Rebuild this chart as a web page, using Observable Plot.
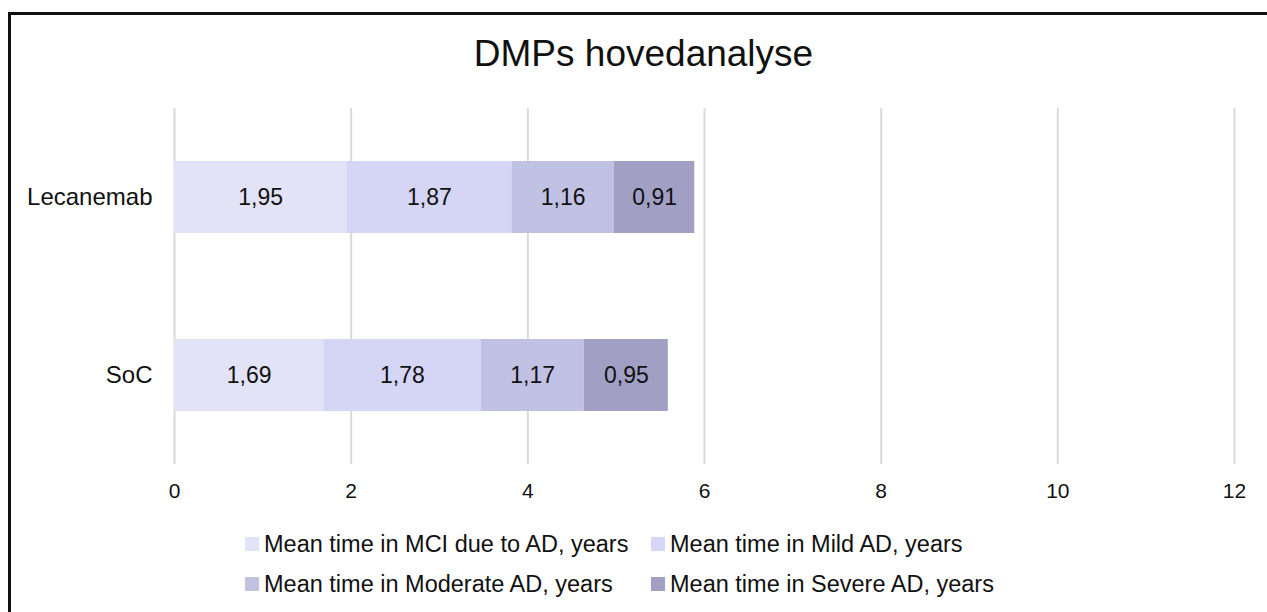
<!DOCTYPE html>
<html>
<head>
<meta charset="utf-8">
<script src="https://cdn.jsdelivr.net/npm/d3@7"></script>
<script src="https://cdn.jsdelivr.net/npm/@observablehq/plot@0.6"></script>
<style>
  html, body { margin: 0; padding: 0; background: #fff; }
  body { width: 1267px; height: 612px; position: relative; overflow: hidden;
         font-family: "Liberation Sans", Arial, sans-serif; color: #111; }
  #frame { position: absolute; left: 8px; top: 12px; width: 1270px; height: 620px;
           border-left: 3px solid #111; border-top: 3px solid #111; box-sizing: border-box; }
  #title { position: absolute; left: 0; width: 1287px; top: 33px; text-align: center;
           font-size: 37px; line-height: 42px; }
  #chart { position: absolute; left: 0; top: 90px; }
  #legend { position: absolute; left: 245px; top: 530px; display: grid;
            grid-template-columns: 406px auto; row-gap: 12px; font-size: 23.5px; line-height: 28px; }
  .item { display: flex; align-items: center; white-space: nowrap; }
  .swatch { width: 14px; height: 14px; margin-right: 5px; flex: none; }
</style>
</head>
<body>
<div id="frame"></div>
<div id="title">DMPs hovedanalyse</div>
<div id="chart"></div>
<div id="legend"></div>
<script>
// Treatment arms, disease stages and mean years spent in each stage
const groups = ["Lecanemab", "SoC"];
const stages = [
  "Mean time in MCI due to AD, years",
  "Mean time in Mild AD, years",
  "Mean time in Moderate AD, years",
  "Mean time in Severe AD, years"
];
const lecanemabYears = [1.95, 1.87, 1.16, 0.91];
const socYears = [1.69, 1.78, 1.17, 0.95];
const stageColors = ["#e3e3f7", "#d5d5f5", "#c1c1e4", "#a1a0c4"];
const xTicks = [0, 2, 4, 6, 8, 10, 12];

const rows = [];
[lecanemabYears, socYears].forEach((vals, gi) => {
  vals.forEach((v, si) => rows.push({group: groups[gi], stage: stages[si], value: v}));
});

const fmt = v => v.toFixed(2).replace(".", ",");

const chart = Plot.plot({
  width: 1267,
  height: 420,
  marginLeft: 174,
  marginRight: 33,
  marginTop: 18,
  marginBottom: 46,
  style: {fontFamily: "'Liberation Sans', Arial, sans-serif", color: "#111", background: "transparent"},
  x: {domain: [0, 12], ticks: xTicks, tickSize: 0, tickFormat: d => String(d), label: null},
  y: {domain: groups, paddingInner: 0.596, paddingOuter: 0.298, tickSize: 0, label: null},
  color: {domain: stages, range: stageColors},
  marks: [
    Plot.ruleX(xTicks, {stroke: "#d9d9d9", strokeWidth: 2}),
    Plot.barX(rows, Plot.stackX({x: "value", y: "group", fill: "stage", z: "stage", order: null})),
    Plot.text(rows, Plot.stackX({x: "value", y: "group", z: "stage", order: null,
      text: d => fmt(d.value), fill: "#111", fontSize: 23})),
    Plot.axisX({ticks: xTicks, tickSize: 0, tickPadding: 19, fontSize: 21, fill: "#111", tickFormat: d => String(d), label: null}),
    Plot.axisY({tickSize: 0, tickPadding: 22, fontSize: 24, fill: "#111", label: null})
  ]
});
document.getElementById("chart").appendChild(chart);

const legend = document.getElementById("legend");
stages.forEach((s, i) => {
  const item = document.createElement("div");
  item.className = "item";
  const sw = document.createElement("span");
  sw.className = "swatch";
  sw.style.background = stageColors[i];
  const label = document.createElement("span");
  label.textContent = s;
  item.appendChild(sw);
  item.appendChild(label);
  legend.appendChild(item);
});
</script>
</body>
</html>
